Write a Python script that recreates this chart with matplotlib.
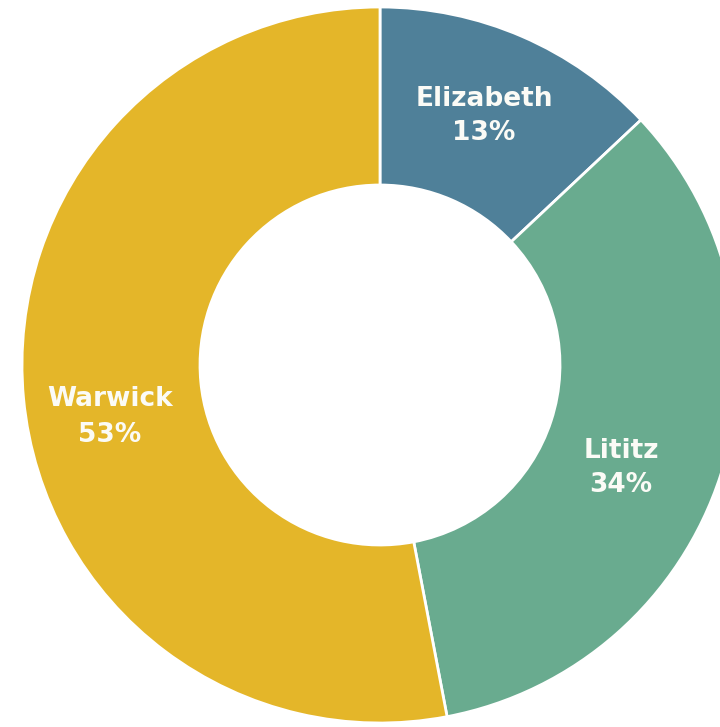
import matplotlib
matplotlib.use('Agg')
import matplotlib.pyplot as plt

names = ['Elizabeth', 'Lititz', 'Warwick']
shares = [13, 34, 53]
colors = ['#4f8099', '#69ab8f', '#e4b629']

# label anchor points in pixel space (x, y from top)
label_pos = [(484, 116), (621, 468), (110, 417)]

W, H = 720, 727
fig = plt.figure(figsize=(W / 100, H / 100), dpi=100)
ax = fig.add_axes([0, 0, 1, 1])

cx, cy = 380, H - 365
R = 358
ax.pie(shares, colors=colors, startangle=90, counterclock=False,
       center=(cx, cy), radius=R, frame=True,
       wedgeprops=dict(width=178, edgecolor='white', linewidth=2))
ax.set_xlim(0, W)
ax.set_ylim(0, H)
ax.set_aspect('equal')
ax.axis('off')

for name, v, (px, py) in zip(names, shares, label_pos):
    ax.text(px, H - py, f'{name}\n{v}%', ha='center', va='center',
            color='#fbfbf6', fontsize=19, fontweight='bold',
            family='DejaVu Sans', linespacing=1.45)

fig.savefig('out.png', dpi=100)
